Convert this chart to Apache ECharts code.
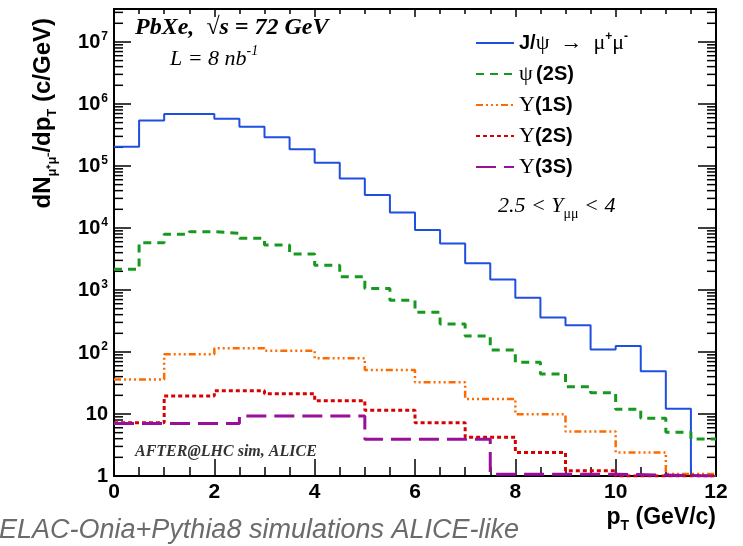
<!DOCTYPE html>
<html>
<head>
<meta charset="utf-8">
<script src="https://cdn.jsdelivr.net/npm/echarts@6/dist/echarts.min.js"></script>
<style>html,body{margin:0;padding:0;background:#fff}#chart{width:743px;height:546px}</style>
</head>
<body>
<div id="chart"></div>
<script>
// ---- data (bin edges in GeV/c, values in c/GeV) ----
const edgesHalf = [0,0.5,1,1.5,2,2.5,3,3.5,4,4.5,5,5.5,6,6.5,7,7.5,8,8.5,9,9.5,10,10.5,11,11.5,12];
const edgesOne = [0,1,2,3,4,5,6,7,8,9,10,11,12];
const edgesWide = [0,2.5,5,7.5,10,12];

const jpsiValues = [2.05e5,5.4e5,6.9e5,6.9e5,5.8e5,4.3e5,2.9e5,1.86e5,1.13e5,6.3e4,3.4e4,1.78e4,
                    9.3e3,5.6e3,2.7e3,1.48e3,750,360,270,110,125,49,12.2,1];
const psi2sValues = [2150,5800,7900,8700,8200,6800,5300,3800,2500,1630,1060,680,
                     437,282,181,108,68,44,27.5,22,11.9,8.5,5.1,3.95];
const ups1sValues = [36,92,115,105,79,51,32.4,17.5,9.9,5.2,2.4,1.08];
const ups2sValues = [7.2,19.5,23.8,21.3,16.4,11.5,7.2,4.2,2.4,1.22,1,1];
const ups3sValues = [7.0,9.3,3.9,1.07,1];

const seriesNames = ['jpsi','psi2s','ups1s','ups2s','ups3s'];
const yTickLabels = ['1','10','{n|10}{e|2}','{n|10}{e|3}','{n|10}{e|4}','{n|10}{e|5}','{n|10}{e|6}','{n|10}{e|7}'];
const xTickLabels = ['0','2','4','6','8','10','12'];
const yMin = 1, yMax = 3.4e7;

function stepData(edges, vals) {
  const d = vals.map((v, i) => [edges[i], v]);
  d.push([edges[edges.length - 1], vals[vals.length - 1]]);
  return d;
}

const minorVals = [];
for (let e = 0; e <= 7; e++) {
  for (let k = 2; k <= 9; k++) {
    const v = k * Math.pow(10, e);
    if (v < yMax) minorVals.push([0, v]);
  }
}

const SANS = '"Liberation Sans", Arial, Helvetica, sans-serif';
const SERIF = '"Liberation Serif", "Times New Roman", serif';

const legendText = {
  jpsi: '{bs|J/}{sy|ψ  →  μ}{sup|+}{sy|μ}{sup|-}',
  psi2s: '{sy|ψ} {bs|(2S)}',
  ups1s: '{sy|Υ}{bs|(1S)}',
  ups2s: '{sy|Υ}{bs|(2S)}',
  ups3s: '{sy|Υ}{bs|(3S)}'
};

const chart = echarts.init(document.getElementById('chart'), null, {renderer: 'canvas'});

function lineSeries(name, edges, vals, color, width, dash) {
  return {
    name: name, type: 'line', step: 'end', symbol: 'none', showSymbol: false,
    data: stepData(edges, vals), clip: true, animation: false,
    lineStyle: {color: color, width: width, type: dash},
    itemStyle: {color: color},
    emphasis: {disabled: true}
  };
}

const option = {
  animation: false,
  backgroundColor: '#fff',
  grid: {left: 114, right: 27, top: 9, bottom: 70, containLabel: false},
  xAxis: [{
    type: 'value', min: 0, max: 12, interval: 2, position: 'bottom',
    axisLine: {show: true, onZero: false, lineStyle: {color: '#000', width: 2}},
    axisTick: {show: true, inside: true, length: 17, lineStyle: {color: '#000', width: 1.5}},
    minorTick: {show: true, splitNumber: 4, length: 9, lineStyle: {color: '#000', width: 1.5}},
    splitLine: {show: false},
    axisLabel: {
      margin: 6, color: '#000', fontFamily: SANS, fontWeight: 'bold', fontSize: 21,
      formatter: v => xTickLabels[Math.round(v / 2)]
    }
  }, {
    type: 'value', min: 0, max: 12, interval: 2, position: 'top',
    axisLine: {show: true, onZero: false, lineStyle: {color: '#000', width: 2}},
    axisTick: {show: true, inside: true, length: 8, lineStyle: {color: '#000', width: 1.5}},
    minorTick: {show: true, splitNumber: 4, length: 5, lineStyle: {color: '#000', width: 1.5}},
    splitLine: {show: false}, axisLabel: {show: false}
  }],
  yAxis: [{
    type: 'log', logBase: 10, min: yMin, max: yMax, position: 'left',
    axisLine: {show: true, onZero: false, lineStyle: {color: '#000', width: 2}},
    axisTick: {show: true, inside: true, length: 17, lineStyle: {color: '#000', width: 1.5}},
    splitLine: {show: false},
    axisLabel: {
      margin: 6, color: '#000', fontFamily: SANS, fontWeight: 'bold', fontSize: 20,
      formatter: function (v) {
        const e = Math.round(Math.log10(v));
        if (Math.abs(Math.log10(v) - e) > 1e-6) return '';
        return yTickLabels[e] !== undefined ? yTickLabels[e] : '';
      },
      rich: {
        n: {fontFamily: SANS, fontWeight: 'bold', fontSize: 20, color: '#000', verticalAlign: 'bottom', lineHeight: 22},
        e: {fontFamily: SANS, fontWeight: 'bold', fontSize: 12, color: '#000', verticalAlign: 'top', lineHeight: 12, padding: [0, 0, 8, 1]}
      }
    }
  }, {
    type: 'log', logBase: 10, min: yMin, max: yMax, position: 'right',
    axisLine: {show: true, onZero: false, lineStyle: {color: '#000', width: 2}},
    axisTick: {show: true, inside: true, length: 18, lineStyle: {color: '#000', width: 1.5}},
    splitLine: {show: false}, axisLabel: {show: false}
  }],
  legend: {
    data: seriesNames,
    orient: 'vertical', left: 470, top: 26,
    itemWidth: 38, itemHeight: 14, itemGap: 7,
    selectedMode: false,
    itemStyle: {opacity: 0},
    formatter: n => legendText[n],
    textStyle: {
      color: '#000', lineHeight: 24,
      rich: {
        bs: {fontFamily: SANS, fontWeight: 'bold', fontSize: 20, color: '#000', lineHeight: 24},
        sy: {fontFamily: SERIF, fontSize: 22, color: '#000', lineHeight: 24},
        sup: {fontFamily: SANS, fontWeight: 'bold', fontSize: 12, color: '#000', verticalAlign: 'top', lineHeight: 12}
      }
    }
  },
  series: [
    lineSeries('jpsi', edgesHalf, jpsiValues, '#1f4fe0', 2, 'solid'),
    lineSeries('psi2s', edgesHalf, psi2sValues, '#17991f', 3, [8, 6]),
    lineSeries('ups1s', edgesOne, ups1sValues, '#ff6a00', 2.5, [7, 3, 2, 3, 2, 3, 2, 3]),
    lineSeries('ups2s', edgesOne, ups2sValues, '#d80000', 3, [4, 3]),
    lineSeries('ups3s', edgesWide, ups3sValues, '#9a0f9a', 3, [20, 8]),
    {
      type: 'custom', name: 'minorTicks', silent: true, animation: false,
      xAxisIndex: 0, yAxisIndex: 0, clip: false,
      data: minorVals,
      renderItem: function (params, api) {
        const cs = params.coordSys;
        const y = api.coord([0, api.value(1)])[1];
        return {
          type: 'group', children: [
            {type: 'line', shape: {x1: cs.x, y1: y, x2: cs.x + 9, y2: y}, style: {stroke: '#000', lineWidth: 1.5}},
            {type: 'line', shape: {x1: cs.x + cs.width - 9, y1: y, x2: cs.x + cs.width, y2: y}, style: {stroke: '#000', lineWidth: 1.5}}
          ]
        };
      }
    }
  ],
  graphic: [
    {type: 'text', left: 135, top: 16, silent: true,
     style: {text: 'PbXe,  √s = 72 GeV', font: 'italic bold 24px ' + SERIF, fill: '#000'}},
    {type: 'text', left: 170, top: 44, silent: true,
     style: {text: '{t|L = 8 nb}{s|-1}', fill: '#000',
       rich: {t: {font: 'italic 22px ' + SERIF, lineHeight: 26, verticalAlign: 'bottom'},
              s: {font: 'italic 14px ' + SERIF, lineHeight: 14, verticalAlign: 'top'}}}},
    {type: 'text', left: 498, top: 195, silent: true,
     style: {text: '{t|2.5 < Y}{s|μμ}{t| < 4}', fill: '#000',
       rich: {t: {font: 'italic 22px ' + SERIF, lineHeight: 26, verticalAlign: 'top'},
              s: {font: '14px ' + SERIF, lineHeight: 14, verticalAlign: 'bottom'}}}},
    {type: 'text', left: 135, top: 444, silent: true,
     style: {text: 'AFTER@LHC sim, ALICE', font: 'italic bold 16px ' + SERIF, fill: '#333'}},
    {type: 'text', x: 519, y: 530, silent: true,
     style: {text: 'HELAC-Onia+Pythia8 simulations ALICE-like', font: 'italic 27px ' + SANS, fill: '#6b6b6b',
             align: 'right', verticalAlign: 'middle'}},
    {type: 'text', x: 716, y: 520, silent: true,
     style: {text: '{t|p}{s|T}{t| (GeV/c)}', align: 'right', verticalAlign: 'middle', fill: '#000',
       rich: {t: {font: 'bold 23px ' + SANS, lineHeight: 27, verticalAlign: 'top'},
              s: {font: 'bold 14px ' + SANS, lineHeight: 14, verticalAlign: 'bottom'}}}},
    {type: 'text', x: 45, y: 18, rotation: Math.PI / 2, silent: true,
     style: {text: '{t|dN}{s|μ⁺μ⁻}{t|/dp}{s|T}{t| (c/GeV)}', align: 'right', verticalAlign: 'middle', fill: '#000',
       rich: {t: {font: 'bold 24px ' + SANS, lineHeight: 28, verticalAlign: 'top'},
              s: {font: 'bold 13px ' + SANS, lineHeight: 13, verticalAlign: 'bottom'}}}}
  ]
};

chart.setOption(option);
</script>
</body>
</html>
